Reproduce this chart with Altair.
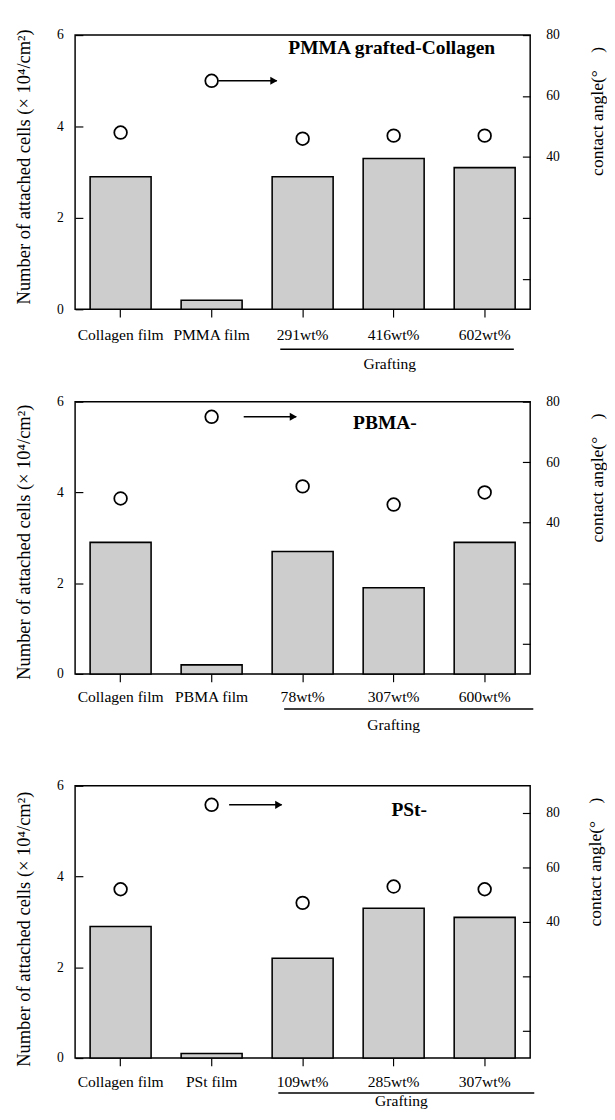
import altair as alt
import pandas as pd

FONT = "Liberation Serif"

# ---- data ----
cats1 = ["Collagen film", "PMMA film", "291wt%", "416wt%", "602wt%"]
cells1 = [2.9, 0.2, 2.9, 3.3, 3.1]
angle1 = [48, 65, 46, 47, 47]

cats2 = ["Collagen film", "PBMA film", "78wt%", "307wt%", "600wt%"]
cells2 = [2.9, 0.2, 2.7, 1.9, 2.9]
angle2 = [48, 75, 52, 46, 50]

cats3 = ["Collagen film", "PSt film", "109wt%", "285wt%", "307wt%"]
cells3 = [2.9, 0.1, 2.2, 3.3, 3.1]
angle3 = [52, 83, 47, 53, 52]

panel_labels = ["PMMA grafted-Collagen", "PBMA-", "PSt-"]
left_ticks = [0, 2, 4, 6]
right_ticks = [80, 60, 40, 20, 0]
angle_domains = [[-10, 80], [-10, 80], [-10, 90]]

LEFT_TITLE = "Number of attached cells (\u00d7 10\u2074/cm\u00b2)"
RIGHT_TITLE = "contact angle(\u00b0\u2002\u2002)"


def panel(k, cats, cells, angles, label, adom, h, o):
    c = f"cat{k}"
    c2 = f"catb{k}"
    df = pd.DataFrame({c: cats, "cells": cells, "angle": angles})
    xs = alt.Scale(domain=cats, paddingInner=0.33, paddingOuter=0.165)
    xaxis = alt.Axis(title=None, labelAngle=0, labelFont=FONT, labelFontSize=16,
                     labelColor="black", tickColor="black", tickSize=8, tickWidth=1.2,
                     domain=False, labelPadding=o["lp"])
    xb = alt.X(f"{c}:N", sort=cats, scale=xs, axis=xaxis)
    xp = alt.X(f"{c}:N", sort=cats, scale=xs)

    bars = alt.Chart(df).mark_bar(fill="#cdcdcd", stroke="black", strokeWidth=1.6).encode(
        x=xb,
        y=alt.Y("cells:Q", scale=alt.Scale(domain=[0, 6], nice=False, zero=True),
                axis=alt.Axis(values=left_ticks, offset=-8, tickSize=8, tickWidth=1.2,
                              tickColor="black", domain=False, grid=False,
                              labelFont=FONT, labelFontSize=14, labelColor="black",
                              labelPadding=12, title=LEFT_TITLE, titleFont=FONT,
                              titleFontSize=19, titleFontWeight="normal", titleColor="black",
                              titleX=-61, titleY=o["lty"], titleAngle=270,
                              titleAlign="center", titleBaseline="middle")),
    )

    ann = alt.Chart(pd.DataFrame({c: [cats[3]], "t": [label]})).mark_text(
        font=FONT, fontSize=20, fontWeight="bold", color="black", dx=o["adx"],
        align="center", baseline="middle").encode(x=xp, y=alt.value(o["ady"]), text="t:N")

    graft_t = alt.Chart(pd.DataFrame({c: [cats[3]], "t": ["Grafting"]})).mark_text(
        font=FONT, fontSize=16, color="black", dx=o["gdx"], align="center",
        baseline="middle").encode(x=xp, y=alt.value(h + o["gy"]), text="t:N")

    graft_l = alt.Chart(pd.DataFrame({c: [cats[2]], c2: [cats[4]]})).mark_rule(
        color="black", strokeWidth=1.5, xOffset=o["ul0"], x2Offset=o["ul1"]).encode(
        x=xp, x2=f"{c2}:N", y=alt.value(h + o["uy"]))

    layers_left = [bars, ann, graft_t, graft_l]
    if o.get("pad") is not None:
        # white spacer that only reserves room below the panel
        spacer = alt.Chart(pd.DataFrame({c: [cats[0]]})).mark_rule(
            color="white", strokeWidth=1).encode(
            x=alt.value(0), x2=alt.value(10), y=alt.value(h + o["pad"]))
        layers_left.append(spacer)

    pts = alt.Chart(df).mark_point(shape="circle", filled=True, fill="white", stroke="black",
                                   strokeWidth=1.8, size=170, opacity=1).encode(
        x=xp,
        y=alt.Y("angle:Q", scale=alt.Scale(domain=adom, nice=False, zero=False),
                axis=alt.Axis(orient="right", values=right_ticks, offset=-8, tickSize=8,
                              tickWidth=1.2, tickColor="black", domain=False, grid=False,
                              labelFont=FONT, labelFontSize=14, labelColor="black",
                              labelPadding=16,
                              labelExpr="datum.value >= 40 ? datum.label : ''",
                              title=RIGHT_TITLE, titleFont=FONT, titleFontSize=18,
                              titleFontWeight="normal", titleColor="black",
                              titleX=o["rtx"], titleY=78, titleAngle=270,
                              titleAlign="center", titleBaseline="middle")),
    )

    adf = df.iloc[[1]]
    arrow = alt.Chart(adf).mark_rule(color="black", strokeWidth=1.5,
                                     xOffset=o["a0"], x2Offset=o["a1"]).encode(
        x=xp, x2=f"{c}:N", y="angle:Q")
    head = alt.Chart(adf).mark_point(shape="triangle-right", filled=True, color="black",
                                     size=70, opacity=1, xOffset=o["a1"] - 3).encode(
        x=xp, y="angle:Q")

    left = alt.layer(*layers_left)
    right = alt.layer(pts, arrow, head)
    return alt.layer(left, right).resolve_scale(y="independent").properties(width=468, height=h)


o1 = dict(lp=10, lty=135, adx=-2, ady=13, gdx=-4, gy=56, ul0=-23, ul1=30, uy=41, a0=7, a1=67,
          rtx=77)
o2 = dict(lp=7, lty=144, adx=-9, ady=22, gdx=0, gy=53, ul0=-19, ul1=50, uy=36, a0=33, a1=87,
          pad=83, rtx=77)
o3 = dict(lp=8, lty=147, adx=16, ady=25, gdx=8, gy=44, ul0=-25, ul1=51, uy=36, a0=18, a1=72,
          rtx=75)

p1 = panel(1, cats1, cells1, angle1, panel_labels[0], angle_domains[0], 282, o1)
p2 = panel(2, cats2, cells2, angle2, panel_labels[1], angle_domains[1], 280, o2)
p3 = panel(3, cats3, cells3, angle3, panel_labels[2], angle_domains[2], 280, o3)

chart = alt.vconcat(p1, p2, p3, spacing=22).resolve_scale(
    x="independent", y="independent"
).properties(
    padding={"left": 6, "top": 4, "right": 0, "bottom": 0},
    background="white",
).configure_view(stroke="black", strokeWidth=1.5)

chart.save("out.html", embed_options={"renderer": "svg", "actions": False})
